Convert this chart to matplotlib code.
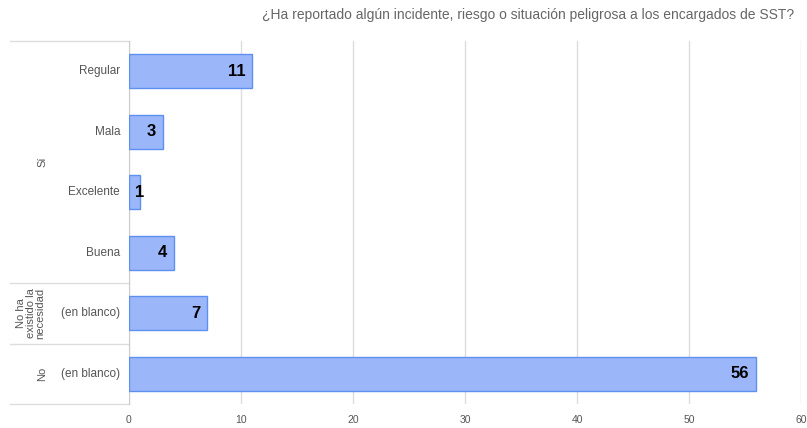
import numpy as np
import matplotlib.pyplot as plt
from matplotlib.transforms import blended_transform_factory

plt.rcParams['font.family'] = ['Liberation Sans', 'DejaVu Sans']

### Datos del gráfico
categorias = ['Regular', 'Mala', 'Excelente', 'Buena', '(en blanco)', '(en blanco)']
grupos = ['Sí', 'No ha\nexistido la\nnecesidad', 'No']
grupo_rango = [(0, 3), (4, 4), (5, 5)]
grupo_x = [42, 31, 42]
valores = [11, 3, 1, 4, 7, 56]
titulo = '¿Ha reportado algún incidente, riesgo o situación peligrosa a los encargados de SST?'

fig = plt.figure(figsize=(8.07, 4.28), dpi=100)
ax = fig.add_axes([129 / 807, 24 / 428, 672 / 807, 363 / 428])

y = np.arange(len(valores))
ax.barh(y, valores, height=0.56, color='#9bb7f9', edgecolor='#5f8ff0', linewidth=1, zorder=3)

for yi, v in zip(y, valores):
    ax.text(max(v - 0.6, 1.4), yi, str(v), ha='right', va='center', fontsize=12,
            fontweight='bold', color='black', zorder=4)

ax.set_xlim(0, 60)
ax.set_ylim(5.5, -0.5)
ax.set_xticks(np.arange(0, 61, 10))
ax.tick_params(axis='x', length=0, labelsize=7.5, colors='#555555', pad=8)
ax.set_yticks([])
ax.grid(axis='x', color='#dddddd', linewidth=1, zorder=0)
for s in ['top', 'right', 'bottom']:
    ax.spines[s].set_visible(False)
ax.spines['left'].set_color('#cccccc')

### Etiquetas del eje y con grupos
tr = blended_transform_factory(ax.transAxes, ax.transData)
x_borde = (10 - 129) / 672
for yi, c in zip(y, categorias):
    ax.text(-9 / 672, yi, c, transform=tr, ha='right', va='center',
            fontsize=8.5, color='#555555')

for g, (a, b), gx in zip(grupos, grupo_rango, grupo_x):
    ax.text((gx - 129) / 672, (a + b) / 2, g, transform=tr, rotation=90,
            ha='center', va='center', fontsize=8, color='#555555', linespacing=0.95)

for ys in [-0.5, 3.5, 4.5, 5.5]:
    ax.plot([x_borde, 0], [ys, ys], transform=tr, color='#dddddd', linewidth=1, clip_on=False)

fig.text(528 / 807, 1 - 15 / 428, titulo, ha='center', va='center', fontsize=10, color='#666666')

plt.savefig('out.png', dpi=100)
